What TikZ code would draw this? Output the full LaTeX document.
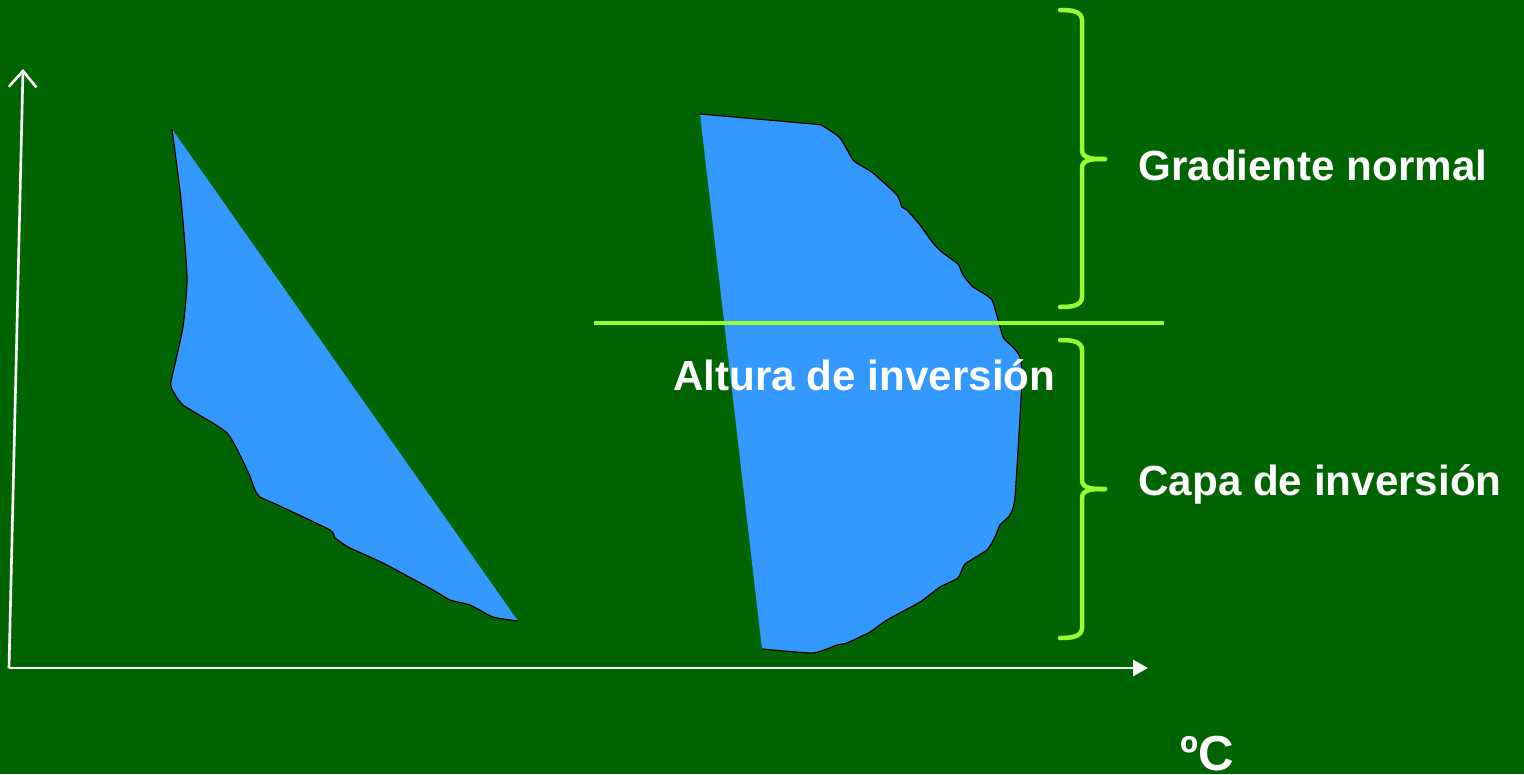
\documentclass[tikz,border=0pt]{standalone}
\usepackage{fontspec}
\setmainfont{Liberation Sans}
\usetikzlibrary{arrows.meta}
\definecolor{bggreen}{RGB}{0,100,0}
\definecolor{layerblue}{RGB}{51,153,255}
\definecolor{limegreen}{RGB}{153,255,51}
\tikzset{
  lbl/.style={text=white,font=\fontsize{24}{28}\selectfont\bfseries,inner sep=0pt,anchor=base west},
  curly/.style={limegreen,line width=0.09cm,line cap=round},
  outline/.style={black,line width=0.7pt},
  axisline/.style={white,line width=1.5pt}
}
\begin{document}
\begin{tikzpicture}[x=0.02cm,y=-0.02cm]
\fill[bggreen] (0,0) rectangle (1524,774);
\useasboundingbox (0,0) rectangle (1524,774);
% axes
\coordinate (o) at (9,668);
\coordinate (ytop) at (23,69);
\coordinate (xend) at (1148,668);
\draw[axisline,-{Straight Barb[length=0.32cm,width=0.55cm]}] (o) -- (ytop);
\draw[axisline,-{Triangle[length=0.3cm,width=0.32cm]}] (o) -- (xend);
% normal gradient profile
\fill[layerblue] plot[smooth,tension=0.35] coordinates {(518,621) (493,617) (470,605) (450,600) (433,590) (383,563) (350,548) (335,538) (330,530) (282,507) (260,497) (255,490) (248,472) (227,433) (183,405) (171,387) (172,377) (183,327) (187,277) (181,200) (172,129)} -- cycle;
\draw[outline] plot[smooth,tension=0.35] coordinates {(518,621) (493,617) (470,605) (450,600) (433,590) (383,563) (350,548) (335,538) (330,530) (282,507) (260,497) (255,490) (248,472) (227,433) (183,405) (171,387) (172,377) (183,327) (187,277) (181,200) (172,129)};
% inversion profile
\fill[layerblue] plot[smooth,tension=0.3] coordinates {(762,649) (813,653) (837,645) (847,643) (870,632) (887,620) (920,602) (940,587) (958,578) (965,564) (987,550) (995,537) (1000,525) (1010,515) (1015,497) (1022,380) (1020,357) (1013,347) (1003,337) (992,300) (973,287) (963,275) (958,264) (943,253) (933,243) (920,225) (907,210) (902,207) (897,195) (873,173) (860,165) (853,160) (840,138) (823,126) (813,124) (700,114)} -- cycle;
\draw[outline] plot[smooth,tension=0.3] coordinates {(762,649) (813,653) (837,645) (847,643) (870,632) (887,620) (920,602) (940,587) (958,578) (965,564) (987,550) (995,537) (1000,525) (1010,515) (1015,497) (1022,380) (1020,357) (1013,347) (1003,337) (992,300) (973,287) (963,275) (958,264) (943,253) (933,243) (920,225) (907,210) (902,207) (897,195) (873,173) (860,165) (853,160) (840,138) (823,126) (813,124) (700,114)};
% inversion height
\draw[limegreen,line width=0.09cm] (594,323) -- (1164,323);
% braces
\draw[curly] (1060,10) to[out=0,in=90] (1082,20) -- (1082,150) to[out=-90,in=180] (1105,159);
\draw[curly] (1105,159) to[out=180,in=90] (1082,168) -- (1082,297) to[out=-90,in=0] (1060,307);
\draw[curly] (1060,340) to[out=0,in=90] (1082,350) -- (1082,480) to[out=-90,in=180] (1105,489);
\draw[curly] (1105,489) to[out=180,in=90] (1082,498) -- (1082,628) to[out=-90,in=0] (1060,638);
% labels
\node[lbl] (grad) at (1138,180) {Gradiente normal};
\node[lbl] (capa) at (1138,495) {Capa de inversión};
\node[lbl] (altura) at (673,390) {Altura de inversión};
\node[lbl,font=\fontsize{28}{32}\selectfont\bfseries] (unit) at (1180,770) {ºC};
\end{tikzpicture}
\end{document}
